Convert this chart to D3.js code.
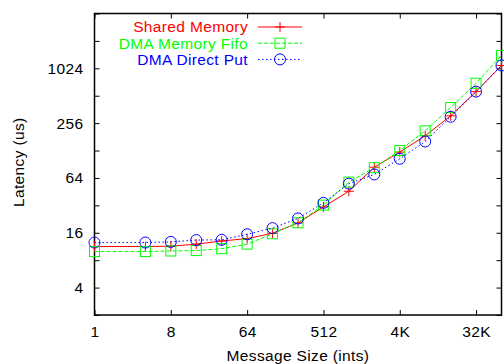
<!DOCTYPE html>
<html><head><meta charset="utf-8">
<script src="https://cdn.jsdelivr.net/npm/d3@7"></script>
<style>
body{margin:0;background:#fff}
svg{display:block}
text{font-family:"Liberation Sans",Arial,Helvetica,sans-serif;letter-spacing:0.35px}
</style>
</head><body>
<svg id="chart" width="504" height="364"></svg>
<script>
// Message sizes (ints) and measured latencies (us)
const sizes = [1,4,8,16,32,64,128,256,512,1024,2048,4096,8192,16384,32768,65536];
const sharedMemory  = [11.3,11.3,11.4,12.0,13.0,13.8,15.8,20.5,30.8,45.7,84,123,186,308,568,1100];
const dmaMemoryFifo = [9.95,9.95,10.1,10.2,10.7,12.0,15.6,20.6,32.2,57.7,83,128,211,380,702,1418];
const dmaDirectPut  = [12.5,12.5,12.7,13.3,13.4,15.4,18.0,23.0,34.1,55.4,70,104,161,301,568,1100];
const seriesNames = ["Shared Memory","DMA Memory Fifo","DMA Direct Put"];
const xTickValues = [1,8,64,512,4096,32768];
const xTickLabels = ["1","8","64","512","4K","32K"];
const yTickValues = [2,4,8,16,32,64,128,256,512,1024,2048,4096];
const yTickLabels = ["","4","","16","","64","","256","","1024","",""];

const svg = d3.select("#chart");
const plotL = 94.5, plotR = 501.5, plotT = 13.5, plotB = 315;
const fs = 15.5;

const x = d3.scaleLog().base(2).domain([1,65536]).range([plotL,plotR]);
const y = d3.scaleLog().base(2).domain([2,4096]).range([plotB,plotT]);

const series = [
  {name: seriesNames[0], values: sharedMemory,  color:"#ff0000", dash:null,  marker:"plus"},
  {name: seriesNames[1], values: dmaMemoryFifo, color:"#00ff00", dash:"4,2", marker:"square"},
  {name: seriesNames[2], values: dmaDirectPut,  color:"#0000ff", dash:"1.5,2.5", marker:"circle"}
];

// axes with inward ticks, mirrored on top and right
const tick = 5;
const xFmt = d => xTickLabels[xTickValues.indexOf(d)];
const yFmt = d => yTickLabels[yTickValues.indexOf(d)];

const gx = svg.append("g").attr("transform",`translate(0,${plotB})`)
  .call(d3.axisBottom(x).tickValues(xTickValues).tickFormat(xFmt).tickSizeInner(-tick).tickSizeOuter(0).tickPadding(11));
const gxt = svg.append("g").attr("transform",`translate(0,${plotT})`)
  .call(d3.axisTop(x).tickValues(xTickValues).tickFormat("").tickSizeInner(-tick).tickSizeOuter(0));
const gy = svg.append("g").attr("transform",`translate(${plotL},0)`)
  .call(d3.axisLeft(y).tickValues(yTickValues).tickFormat(yFmt).tickSizeInner(-tick).tickSizeOuter(0).tickPadding(11));
const gyr = svg.append("g").attr("transform",`translate(${plotR},0)`)
  .call(d3.axisRight(y).tickValues(yTickValues).tickFormat("").tickSizeInner(-tick).tickSizeOuter(0));

[gx,gxt,gy,gyr].forEach(g=>{
  g.select(".domain").remove();
  g.selectAll("line").attr("stroke","#000").attr("stroke-width",1);
  g.selectAll("text").attr("font-size",fs).attr("fill","#000").attr("font-family",null);
});

svg.append("rect").attr("x",plotL).attr("y",plotT).attr("width",plotR-plotL).attr("height",plotB-plotT)
  .attr("fill","none").attr("stroke","#000").attr("stroke-width",1.5);

// axis titles
svg.append("text").attr("x",(plotL+plotR)/2).attr("y",361).attr("text-anchor","middle")
  .attr("font-size",fs).text("Message Size (ints)");
svg.append("text").attr("transform",`translate(24,${(plotT+plotB)/2 - 2}) rotate(-90)`).attr("text-anchor","middle")
  .attr("font-size",fs).text("Latency (us)");

function drawMarker(g, kind, cx, cy, color){
  if(kind==="plus"){
    g.append("path").attr("d",`M${cx-5},${cy}H${cx+5}M${cx},${cy-5}V${cy+5}`)
      .attr("stroke",color).attr("stroke-width",1).attr("fill","none");
  } else if(kind==="square"){
    g.append("rect").attr("x",cx-5).attr("y",cy-5).attr("width",10).attr("height",10)
      .attr("stroke",color).attr("stroke-width",1).attr("fill","none");
  } else {
    g.append("circle").attr("cx",cx).attr("cy",cy).attr("r",5.5)
      .attr("stroke",color).attr("stroke-width",1).attr("fill","none");
  }
}

const line = d3.line().x(d=>x(d[0])).y(d=>y(d[1]));
series.forEach(s=>{
  const pts = sizes.map((v,i)=>[v,s.values[i]]);
  const g = svg.append("g");
  g.append("path").attr("d",line(pts)).attr("fill","none").attr("stroke",s.color)
    .attr("stroke-width",1).attr("stroke-dasharray",s.dash);
  pts.forEach(p=>drawMarker(g,s.marker,x(p[0]),y(p[1]),s.color));
});

// legend
const lg = svg.append("g");
series.forEach((s,i)=>{
  const ly = 27 + i*16.2;
  lg.append("text").attr("x",248).attr("y",ly).attr("dy","0.35em").attr("text-anchor","end")
    .attr("font-size",fs).attr("fill",s.color).text(s.name);
  lg.append("line").attr("x1",258).attr("x2",302).attr("y1",ly).attr("y2",ly)
    .attr("stroke",s.color).attr("stroke-width",1).attr("stroke-dasharray",s.dash);
  drawMarker(lg,s.marker,280,ly,s.color);
});
</script>
</body></html>
